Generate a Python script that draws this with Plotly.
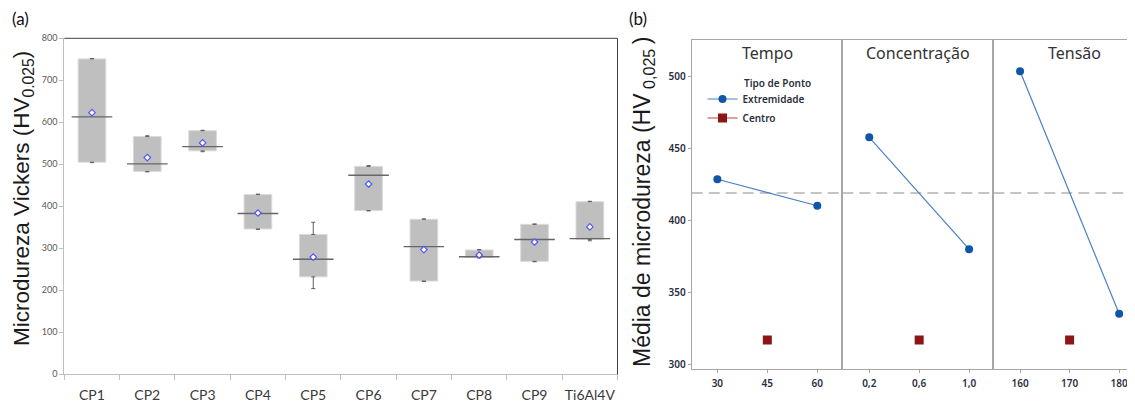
import plotly.graph_objects as go

# The page body adds an 8px margin; the figure is sized/positioned so the
# visible window matches the reference 1135x406 layout.
OFF = 8
W, H = 1135 - OFF, 406 - OFF

# ---------------- data: panel (a) ----------------
categories = ["CP1", "CP2", "CP3", "CP4", "CP5", "CP6", "CP7", "CP8", "CP9", "Ti6Al4V"]
mins    = [504, 482, 530, 345, 204, 389, 221, 277, 268, 318]
q1s     = [505, 483, 532, 346, 232, 390, 222, 278, 269, 321]
medians = [613, 501, 542, 383, 274, 474, 304, 280, 321, 323]
q3s     = [751, 566, 580, 428, 333, 495, 369, 296, 357, 411]
maxs    = [752, 568, 581, 429, 362, 497, 370, 297, 358, 412]
means   = [623, 516, 551, 384, 279, 453, 297, 284, 315, 351]
a_yticks = [0, 100, 200, 300, 400, 500, 600, 700, 800]

# ---------------- data: panel (b) ----------------
factor_names = ["Tempo", "Concentração", "Tensão"]
tempo_levels = [30, 60]
tempo_ext = [428.5, 410.1]
conc_levels = [0.2, 1.0]
conc_ext = [457.6, 379.9]
tensao_levels = [160, 180]
tensao_ext = [503.5, 335.1]
center_levels = [45, 0.6, 170]
center_vals = [316.9, 316.9, 316.9]
grand_mean = 419.0
tempo_ticks = [30, 45, 60]
tempo_ticktext = ["30", "45", "60"]
conc_ticks = [0.2, 0.6, 1.0]
conc_ticktext = ["0,2", "0,6", "1,0"]
tensao_ticks = [160, 170, 180]
tensao_ticktext = ["160", "170", "180"]
b_yticks = [300, 350, 400, 450, 500]

# ---------------- geometry helpers (page pixels -> paper) ----------------
def px(x):
    return (x - OFF) / W

def py(y):
    return 1 - (y - OFF) / H

fig = go.Figure()

# ---------------- panel (a) ----------------
box_h = [q3 - q1 for q1, q3 in zip(q1s, q3s)]
fig.add_trace(go.Bar(
    x=categories, y=box_h, base=q1s, width=0.5,
    marker=dict(color="#bfbfbf", line=dict(color="#dadada", width=1)),
    xaxis="x", yaxis="y", showlegend=False, hoverinfo="skip"))

fig.add_trace(go.Scatter(
    x=categories, y=q3s, mode="markers",
    marker=dict(size=1, opacity=0),
    error_y=dict(type="data", symmetric=False,
                 array=[mx - q3 for mx, q3 in zip(maxs, q3s)],
                 arrayminus=[0] * len(q3s),
                 color="#606060", thickness=1, width=2),
    xaxis="x", yaxis="y", showlegend=False, hoverinfo="skip"))

fig.add_trace(go.Scatter(
    x=categories, y=q1s, mode="markers",
    marker=dict(size=1, opacity=0),
    error_y=dict(type="data", symmetric=False,
                 array=[0] * len(q1s),
                 arrayminus=[q1 - mn for q1, mn in zip(q1s, mins)],
                 color="#606060", thickness=1, width=2),
    xaxis="x", yaxis="y", showlegend=False, hoverinfo="skip"))

fig.add_trace(go.Scatter(
    x=categories, y=medians, mode="markers",
    marker=dict(symbol="line-ew", size=29, line=dict(color="#666666", width=1.4)),
    xaxis="x", yaxis="y", showlegend=False, hoverinfo="skip"))

fig.add_trace(go.Scatter(
    x=categories, y=means, mode="markers",
    marker=dict(symbol="diamond", size=5, color="white",
                line=dict(color="#5555ff", width=1.2)),
    xaxis="x", yaxis="y", showlegend=False, hoverinfo="skip"))

# ---------------- panel (b) ----------------
ext_color = "#0f56a8"
ext_line = "#4a80c4"
cen_color = "#8e1515"
sets = [(tempo_levels, tempo_ext, "x2", "y2"),
        (conc_levels, conc_ext, "x3", "y3"),
        (tensao_levels, tensao_ext, "x4", "y4")]
for i, (lv, vals, xa, ya) in enumerate(sets):
    fig.add_trace(go.Scatter(
        x=lv, y=vals, mode="lines+markers", name="Extremidade",
        legendgroup="ext", showlegend=(i == 0),
        line=dict(color=ext_line, width=1.2),
        marker=dict(color=ext_color, size=8, symbol="circle"),
        xaxis=xa, yaxis=ya))
for i, (lv, val, (_, _, xa, ya)) in enumerate(zip(center_levels, center_vals, sets)):
    fig.add_trace(go.Scatter(
        x=[lv], y=[val], mode="lines+markers", name="Centro",
        legendgroup="cen", showlegend=(i == 0),
        line=dict(color="#b04848", width=1.2),
        marker=dict(color=cen_color, size=9, symbol="square"),
        xaxis=xa, yaxis=ya))

# dashed grand-mean line in each panel
for _, _, xa, ya in sets:
    fig.add_shape(type="line", xref=f"{xa} domain", x0=0, x1=1,
                  yref=ya, y0=grand_mean, y1=grand_mean,
                  line=dict(color="#b3b3b3", width=1.5, dash="11px,6px"),
                  layer="below")

# ---------------- axes ----------------
a_dom_y = [py(374.3), py(38.3)]
b_dom_y = [py(369.3), py(40)]
gray = "#bfbfbf"
tick_font_b = dict(family="Noto Sans", size=10, color="#2a2f3d", weight=600)

fig.update_layout(
    xaxis=dict(domain=[px(64.3), px(617.5)], type="category", range=[-0.5, 9.5],
               showline=True, linecolor=gray, linewidth=1,
               ticks="outside", tickson="boundaries", ticklen=5, tickcolor=gray,
               tickangle=0, ticklabelstandoff=8,
               tickfont=dict(family="Lato", size=14, color="#3a3a3a"),
               showgrid=False, zeroline=False, anchor="y"),
    yaxis=dict(domain=a_dom_y, range=[0, 800], tickvals=a_yticks,
               showline=True, linecolor=gray, linewidth=1,
               ticks="outside", ticklen=4, tickcolor=gray,
               tickfont=dict(family="Lato", size=9, color="#595959"),
               showgrid=False, zeroline=False, anchor="x"),
    xaxis2=dict(domain=[px(691.7), px(842.3)], range=[22.3, 67.5],
                tickvals=tempo_ticks, ticktext=tempo_ticktext, anchor="y2"),
    xaxis3=dict(domain=[px(842.3), px(993.3)], range=[-0.016, 1.194],
                tickvals=conc_ticks, ticktext=conc_ticktext, anchor="y3"),
    xaxis4=dict(domain=[px(993.3), 1.0], range=[154.6, 183.2],
                tickvals=tensao_ticks, ticktext=tensao_ticktext, anchor="y4"),
    yaxis2=dict(domain=b_dom_y, range=[296.5, 525.2], tickvals=b_yticks,
                anchor="x2", ticks="outside", ticklen=3, tickcolor="#a6a6a6",
                tickfont=tick_font_b),
    yaxis3=dict(domain=b_dom_y, range=[296.5, 525.2], tickvals=b_yticks,
                anchor="x3", showticklabels=False, ticks=""),
    yaxis4=dict(domain=b_dom_y, range=[296.5, 525.2], tickvals=b_yticks,
                anchor="x4", showticklabels=False, ticks=""),
)
for ax in ["xaxis2", "xaxis3", "xaxis4"]:
    fig.layout[ax].update(showline=True, mirror=True, linecolor="#a6a6a6", linewidth=1,
                          ticks="outside", ticklen=3, tickcolor="#a6a6a6", tickangle=0,
                          ticklabelstandoff=2,
                          tickfont=tick_font_b, showgrid=False, zeroline=False)
for ax in ["yaxis2", "yaxis3", "yaxis4"]:
    fig.layout[ax].update(showline=True, mirror=True, linecolor="#a6a6a6", linewidth=1,
                          showgrid=False, zeroline=False)
for ax in ["xaxis", "yaxis", "xaxis2", "xaxis3", "xaxis4", "yaxis2", "yaxis3", "yaxis4"]:
    fig.layout[ax].update(automargin=False)

# frame top/right of panel (a)
fig.add_shape(type="line", xref="x domain", yref="y domain", x0=0, x1=1, y0=1, y1=1,
              line=dict(color="#404040", width=1))
fig.add_shape(type="line", xref="x domain", yref="y domain", x0=1, x1=1, y0=0, y1=1,
              line=dict(color="#404040", width=1))

# ---------------- annotations ----------------
ann = []
ann.append(dict(text="(a)", x=px(10), y=py(18), xref="paper", yref="paper",
                xanchor="left", yanchor="middle", showarrow=False,
                font=dict(family="Lato", size=17, color="#111")))
ann.append(dict(text="(b)", x=px(627), y=py(18), xref="paper", yref="paper",
                xanchor="left", yanchor="middle", showarrow=False,
                font=dict(family="Lato", size=17, color="#111")))
ann.append(dict(text="Microdureza Vickers (HV<sub>0.025</sub>)", x=px(23), y=py(199),
                xref="paper", yref="paper", textangle=-90, showarrow=False,
                xanchor="center", yanchor="middle",
                font=dict(family="Liberation Sans", size=22.5, color="#1a1a1a")))
ann.append(dict(text="Média de microdureza (HV<sub> 0,025 </sub>)", x=px(643), y=py(202),
                xref="paper", yref="paper", textangle=-90, showarrow=False,
                xanchor="center", yanchor="middle",
                font=dict(family="Liberation Sans", size=23, color="#1a1a1a")))
title_pos = [("x2 domain", 0.5), ("x3 domain", 0.5), ("x4 domain", 0.57)]
for name, (xr, xx), (_, _, xa, ya) in zip(factor_names, title_pos, sets):
    ann.append(dict(text=name, xref=xr, x=xx, yref=f"{ya} domain", y=0.96,
                    xanchor="center", yanchor="middle", showarrow=False,
                    font=dict(family="Noto Sans", size=16, color="#333")))
ann.append(dict(text="Tipo de Ponto", x=px(742), y=py(83.5), xref="paper", yref="paper",
                xanchor="left", yanchor="middle", showarrow=False,
                font=dict(family="Noto Sans", size=10, color="#2a2f3d", weight=600)))

fig.update_layout(
    annotations=ann,
    width=W, height=H, autosize=False,
    margin=dict(l=0, r=0, t=0, b=0),
    paper_bgcolor="white", plot_bgcolor="white",
    showlegend=True,
    legend=dict(x=px(702.5), y=py(84.5), xanchor="left", yanchor="top",
                bgcolor="rgba(0,0,0,0)", borderwidth=0,
                font=dict(family="Noto Sans", size=10, color="#2a2f3d", weight=600),
                tracegroupgap=0, itemwidth=30),
    bargap=0.5,
)

fig.write_html("out.html")
